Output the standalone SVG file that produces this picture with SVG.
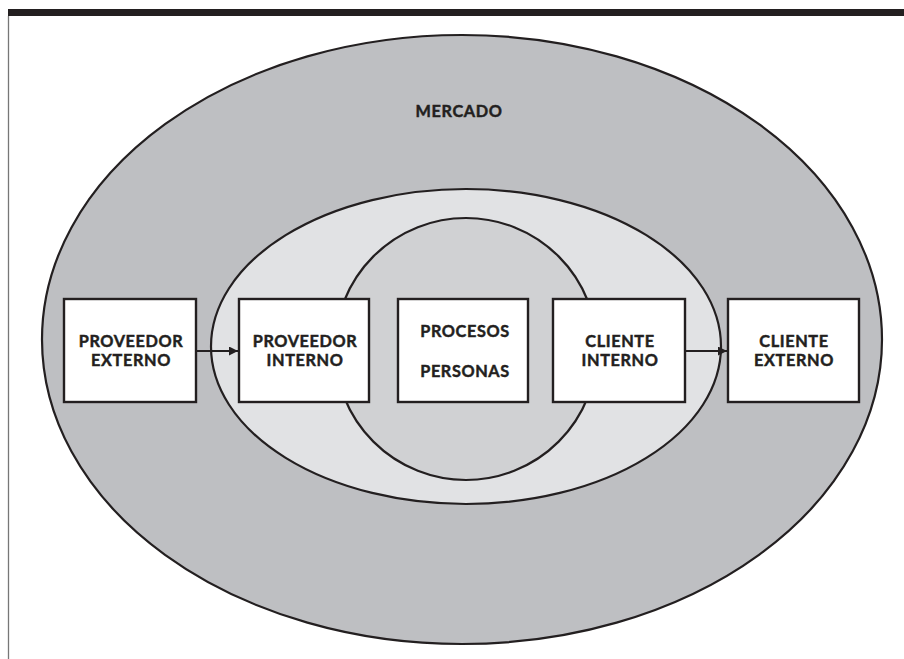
<svg xmlns="http://www.w3.org/2000/svg" width="904" height="659" viewBox="0 0 904 659">
<style>
.ell{stroke:#231f20;stroke-width:2.2}
.box{fill:#fff;stroke:#231f20;stroke-width:2.4}
.t{font-family:Lato,"Liberation Sans",sans-serif;font-weight:bold;font-size:16.3px;fill:#231f20;stroke:#231f20;stroke-width:0.45;text-anchor:middle;letter-spacing:0.6px}
.con{stroke:#231f20;stroke-width:2;fill:none}
</style>
<defs>
<marker id="ah" viewBox="0 0 10 10" refX="10" refY="5" markerWidth="10" markerHeight="9" markerUnits="userSpaceOnUse" orient="auto">
<path d="M0,0 L10,5 L0,10 z" fill="#231f20"/>
</marker>
</defs>
<rect x="0" y="0" width="904" height="659" fill="#fff"/>
<rect x="8" y="9" width="896" height="7" fill="#231f20"/>
<line x1="8.5" y1="16" x2="8.5" y2="659" stroke="#777" stroke-width="1.3"/>
<g id="mercado">
<ellipse class="ell" cx="462" cy="339.5" rx="420" ry="304.5" fill="#bebfc2"/>
<text class="t" x="459" y="117">MERCADO</text>
</g>
<g id="empresa">
<ellipse class="ell" cx="466" cy="346.5" rx="255" ry="157.5" fill="#e1e2e4"/>
</g>
<g id="nucleo">
<circle class="ell" cx="466" cy="349" r="131" fill="#d0d1d3"/>
</g>
<g id="proveedor-externo">
<rect class="box" x="64" y="299" width="132" height="103"/>
<text class="t" x="131" y="347">PROVEEDOR</text>
<text class="t" x="131" y="366">EXTERNO</text>
</g>
<g id="proveedor-interno">
<rect class="box" x="239" y="299" width="130" height="103"/>
<text class="t" x="305" y="347">PROVEEDOR</text>
<text class="t" x="305" y="366">INTERNO</text>
</g>
<g id="procesos-personas">
<rect class="box" x="398" y="299" width="130" height="103"/>
<text class="t" x="465" y="337">PROCESOS</text>
<text class="t" x="465" y="377">PERSONAS</text>
</g>
<g id="cliente-interno">
<rect class="box" x="553" y="299" width="132" height="103"/>
<text class="t" x="620" y="347">CLIENTE</text>
<text class="t" x="620" y="366">INTERNO</text>
</g>
<g id="cliente-externo">
<rect class="box" x="728" y="299" width="131" height="103"/>
<text class="t" x="794" y="347">CLIENTE</text>
<text class="t" x="794" y="366">EXTERNO</text>
</g>
<g id="connectors">
<line class="con" x1="196" y1="351" x2="238" y2="351" marker-end="url(#ah)"/>
<line class="con" x1="685" y1="351" x2="727" y2="351" marker-end="url(#ah)"/>
</g>
</svg>
